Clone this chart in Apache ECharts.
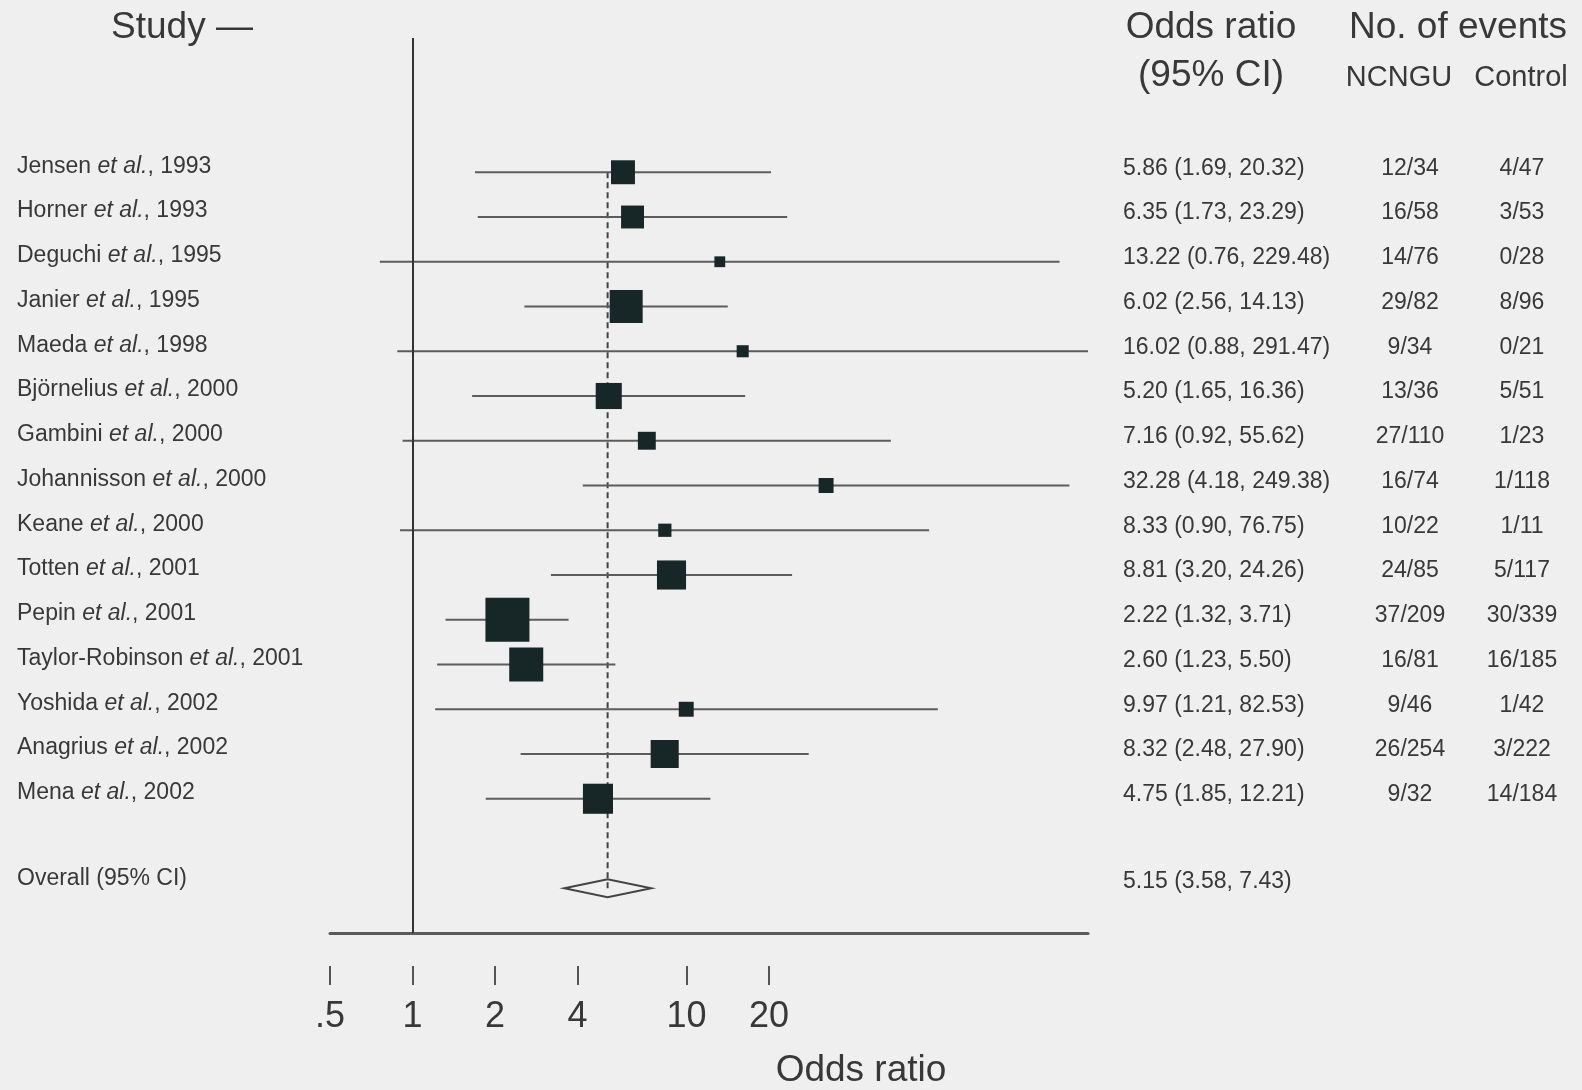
<!DOCTYPE html>
<html>
<head>
<meta charset="utf-8">
<title>Odds ratio forest plot</title>
<script src="https://cdn.jsdelivr.net/npm/echarts@6/dist/echarts.min.js"></script>
<style>
  html, body { margin: 0; padding: 0; background: #efefef; }
  #main { width: 1582px; height: 1090px; }
</style>
</head>
<body>
<div id="main"></div>
<script>
// studies, top to bottom
var authors = ['Jensen', 'Horner', 'Deguchi', 'Janier', 'Maeda', 'Björnelius', 'Gambini', 'Johannisson',
  'Keane', 'Totten', 'Pepin', 'Taylor-Robinson', 'Yoshida', 'Anagrius', 'Mena'];
var years = [1993, 1993, 1995, 1995, 1998, 2000, 2000, 2000, 2000, 2001, 2001, 2001, 2002, 2002, 2002];
var oddsRatio = [5.86, 6.35, 13.22, 6.02, 16.02, 5.20, 7.16, 32.28, 8.33, 8.81, 2.22, 2.60, 9.97, 8.32, 4.75];
var ciLow = [1.69, 1.73, 0.76, 2.56, 0.88, 1.65, 0.92, 4.18, 0.90, 3.20, 1.32, 1.23, 1.21, 2.48, 1.85];
var ciHigh = [20.32, 23.29, 229.48, 14.13, 291.47, 16.36, 55.62, 249.38, 76.75, 24.26, 3.71, 5.50, 82.53, 27.90, 12.21];
// study weights (%)
var weights = [5.9, 5.4, 1.2, 11.2, 1.5, 7.0, 3.3, 2.3, 1.8, 8.7, 19.9, 11.9, 2.3, 8.1, 9.3];
var eventsNCNGU = ['12/34', '16/58', '14/76', '29/82', '9/34', '13/36', '27/110', '16/74', '10/22', '24/85',
  '37/209', '16/81', '9/46', '26/254', '9/32'];
var eventsControl = ['4/47', '3/53', '0/28', '8/96', '0/21', '5/51', '1/23', '1/118', '1/11', '5/117',
  '30/339', '16/185', '1/42', '3/222', '14/184'];
// overall: OR, lower, upper
var pooled = [5.15, 3.58, 7.43];
var tickValues = [0.5, 1, 2, 4, 10, 20];

var FONT = '"Liberation Sans", Arial, Helvetica, sans-serif';
var INK = '#383838';
var overallRow = authors.length + 1;
var xMin = 0.5, xMax = 291.47;

function fmt(v) { return v.toFixed(2); }
function ciText(o, l, h) { return fmt(o) + ' (' + fmt(l) + ', ' + fmt(h) + ')'; }

var studyData = oddsRatio.map(function (v, i) {
  return [i, v, ciLow[i], ciHigh[i], weights[i]];
});

// one text row per study + overall
var textRows = authors.map(function (a, i) {
  return {
    row: i,
    label: '{n|' + a + ' }{i|et al.}{n|, ' + years[i] + '}',
    or: ciText(oddsRatio[i], ciLow[i], ciHigh[i]),
    n: eventsNCNGU[i],
    c: eventsControl[i]
  };
});
textRows.push({ row: overallRow, label: '{n|Overall (95% CI)}', or: ciText(pooled[0], pooled[1], pooled[2]), n: '', c: '', overall: true });

function txt(x, y, s, align, size) {
  return {
    type: 'text', x: x, y: y,
    style: {
      text: s, fontSize: size || 23, fontFamily: FONT, fill: INK,
      align: align, textAlign: align, verticalAlign: 'middle', textVerticalAlign: 'middle'
    }
  };
}

var myChart = echarts.init(document.getElementById('main'));

myChart.setOption({
  backgroundColor: '#efefef',
  animation: false,
  grid: { left: 330, top: 38, width: 758, height: 895 },
  xAxis: [{
    type: 'log', min: xMin, max: xMax, position: 'bottom',
    axisLine: { show: true, onZero: false, lineStyle: { color: '#5a5a5a', width: 3 } },
    axisTick: { show: false },
    axisLabel: { show: false },
    splitLine: { show: false }
  }, {
    type: 'log', min: xMin, max: xMax, position: 'bottom', offset: 33,
    axisLine: { show: false, onZero: false },
    axisTick: { show: true, length: 19, customValues: tickValues, lineStyle: { color: '#555', width: 2 } },
    axisLabel: {
      customValues: tickValues, margin: 33, fontSize: 36, fontFamily: FONT, color: INK,
      formatter: function (v) { return v === 0.5 ? '.5' : String(v); }
    },
    splitLine: { show: false }
  }],
  yAxis: { type: 'value', inverse: true, min: -3, max: 17, show: false },
  graphic: [
    txt(182, 28, 'Study —', 'center', 37),
    txt(1211, 28, 'Odds ratio', 'center', 37),
    txt(1211, 76, '(95% CI)', 'center', 37),
    txt(1458, 28, 'No. of events', 'center', 37),
    txt(1399, 78, 'NCNGU', 'center', 29),
    txt(1521, 78, 'Control', 'center', 29),
    txt(861, 1071, 'Odds ratio', 'center', 37)
  ],
  series: [{
    // pooled estimate (dashed) + line of no effect
    type: 'line',
    data: [[pooled[0], 0], [pooled[0], overallRow]],
    symbol: 'none',
    silent: true,
    lineStyle: { color: '#444', width: 2, type: [6, 4] },
    markLine: {
      silent: true, symbol: 'none', label: { show: false },
      lineStyle: { color: '#333', width: 2, type: 'solid' },
      data: [{ xAxis: 1 }]
    },
    z: 1
  }, {
    // CI lines and weighted boxes
    type: 'custom',
    data: studyData,
    encode: { x: [1, 2, 3], y: 0 },
    renderItem: function (params, api) {
      var r = api.value(0);
      var lo = api.coord([api.value(2), r]);
      var hi = api.coord([api.value(3), r]);
      var mid = api.coord([api.value(1), r]);
      var side = 9.86 * Math.sqrt(api.value(4));
      return {
        type: 'group',
        children: [{
          type: 'line',
          shape: { x1: lo[0], y1: lo[1], x2: hi[0], y2: hi[1] },
          style: { stroke: '#5c5c5c', lineWidth: 2 }
        }, {
          type: 'rect',
          shape: { x: mid[0] - side / 2, y: mid[1] - side / 2, width: side, height: side },
          style: { fill: '#172626' }
        }]
      };
    },
    z: 2
  }, {
    // overall diamond
    type: 'custom',
    data: [[pooled[0], pooled[1], pooled[2], overallRow]],
    encode: { x: [0, 1, 2], y: 3 },
    renderItem: function (params, api) {
      var r = api.value(3);
      var m = api.coord([api.value(0), r]);
      var l = api.coord([api.value(1), r]);
      var h = api.coord([api.value(2), r]);
      return {
        type: 'polygon',
        shape: { points: [[l[0], m[1]], [m[0], m[1] - 9], [h[0], m[1]], [m[0], m[1] + 9]] },
        style: { fill: 'none', stroke: '#444', lineWidth: 2 }
      };
    },
    z: 3
  }, {
    // row texts: study, OR (95% CI), events
    type: 'custom',
    data: textRows.map(function (t) { return [1, t.row]; }),
    encode: { x: 0, y: 1 },
    renderItem: function (params, api) {
      var t = textRows[params.dataIndex];
      var y = api.coord([1, t.row])[1];
      var dy = t.overall ? -10 : -6;
      var rich = {
        n: { fontSize: 23, fontFamily: FONT, fill: INK, color: INK },
        i: { fontSize: 23, fontFamily: FONT, fontStyle: 'italic', fill: INK, color: INK }
      };
      var label = txt(17, y + dy, t.label, 'left', 23);
      label.style.rich = rich;
      return {
        type: 'group',
        children: [
          label,
          txt(1123, y + (t.overall ? -7 : -4), t.or, 'left', 23),
          txt(1410, y - 4, t.n, 'center', 23),
          txt(1522, y - 4, t.c, 'center', 23)
        ]
      };
    },
    z: 4
  }]
});
</script>
</body>
</html>
